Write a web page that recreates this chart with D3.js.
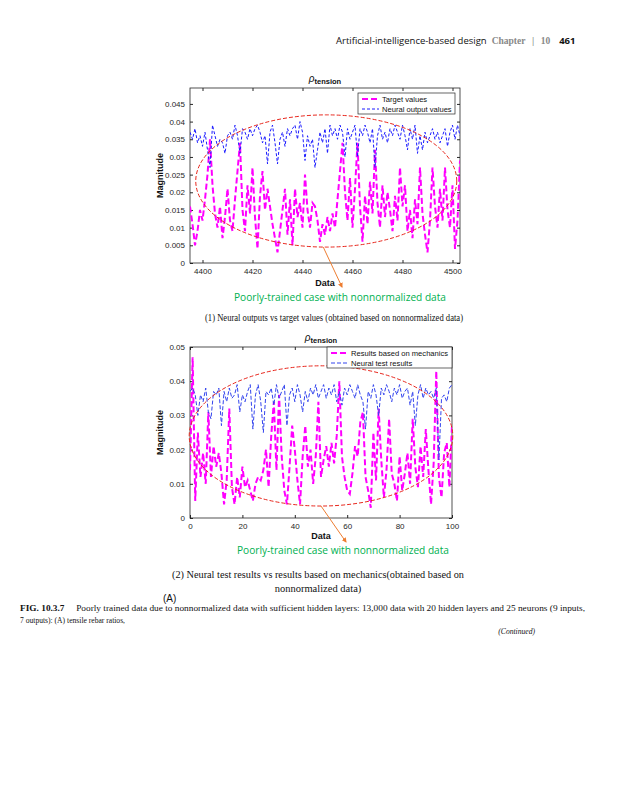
<!DOCTYPE html>
<html>
<head>
<meta charset="utf-8">
<script src="https://cdn.jsdelivr.net/npm/d3@7"></script>
<style>
  body { margin: 0; background: #fff; }
  svg { display: block; }
  .tick text { font-family: "Liberation Sans", Arial, sans-serif; font-size: 8px; fill: #262626; }
  .tick line { stroke: #262626; }
  .domain { stroke: none; }
</style>
</head>
<body>
<script>
// ---- data: top chart (samples 4395..4503) ----
var topIndex = d3.range(4395, 4504);
var topTarget = [
  0.016, 0.011, 0.005, 0.009, 0.015, 0.012, 0.018, 0.025, 0.035, 0.022,
  0.014, 0.010, 0.016, 0.007, 0.013, 0.021, 0.012, 0.009, 0.018, 0.026,
  0.034, 0.015, 0.009, 0.022, 0.014, 0.027, 0.013, 0.004, 0.019, 0.026,
  0.015, 0.021, 0.016, 0.011, 0.007, 0.003, 0.009, 0.015, 0.021, 0.008,
  0.018, 0.005, 0.021, 0.013, 0.017, 0.010, 0.025, 0.015, 0.010, 0.017,
  0.016, 0.012, 0.006, 0.011, 0.008, 0.013, 0.009, 0.014, 0.010, 0.018,
  0.026, 0.034, 0.020, 0.012, 0.024, 0.010, 0.021, 0.034, 0.016, 0.006,
  0.019, 0.011, 0.023, 0.014, 0.032, 0.017, 0.010, 0.022, 0.013, 0.020,
  0.015, 0.009, 0.019, 0.012, 0.027, 0.016, 0.022, 0.009, 0.015, 0.007,
  0.018, 0.011, 0.027, 0.014, 0.008, 0.003, 0.012, 0.027, 0.016, 0.010,
  0.021, 0.012, 0.027, 0.015, 0.010, 0.022, 0.004, 0.012, 0.029
];
var topNeural = [
  0.037, 0.035, 0.038, 0.034, 0.036, 0.033, 0.037, 0.032, 0.027, 0.039,
  0.036, 0.033, 0.035, 0.034, 0.031, 0.036, 0.037, 0.035, 0.039, 0.036,
  0.031, 0.038, 0.037, 0.035, 0.038, 0.036, 0.038, 0.039, 0.037, 0.034,
  0.036, 0.028, 0.037, 0.039, 0.034, 0.028, 0.035, 0.037, 0.033, 0.038,
  0.036, 0.038, 0.039, 0.035, 0.040, 0.037, 0.029, 0.036, 0.033, 0.035,
  0.027, 0.032, 0.037, 0.034, 0.038, 0.031, 0.039, 0.036, 0.038, 0.035,
  0.039, 0.037, 0.030, 0.038, 0.035, 0.037, 0.039, 0.030, 0.038, 0.036,
  0.039, 0.037, 0.034, 0.038, 0.027, 0.036, 0.039, 0.035, 0.037, 0.034,
  0.038, 0.036, 0.039, 0.037, 0.035, 0.039, 0.036, 0.032, 0.038, 0.035,
  0.039, 0.031, 0.036, 0.032, 0.037, 0.034, 0.036, 0.038, 0.035, 0.037,
  0.034, 0.036, 0.038, 0.033, 0.037, 0.039, 0.035, 0.039, 0.036
];
var topXTicks = [4400, 4420, 4440, 4460, 4480, 4500];
var topYTicks = [0, 0.005, 0.01, 0.015, 0.02, 0.025, 0.03, 0.035, 0.04, 0.045];
var topYTickLabels = ["0", "0.005", "0.01", "0.015", "0.02", "0.025", "0.03", "0.035", "0.04", "0.045"];
var topLegend = ["Target values", "Neural output values"];

// ---- data: bottom chart (test samples 0..100) ----
var botIndex = d3.range(0, 101);
var botMechanics = [
  0.014, 0.047, 0.005, 0.025, 0.012, 0.019, 0.010, 0.031, 0.012, 0.021,
  0.015, 0.019, 0.013, 0.004, 0.011, 0.032, 0.009, 0.004, 0.012, 0.006,
  0.015, 0.009, 0.011, 0.008, 0.005, 0.010, 0.012, 0.011, 0.014, 0.020,
  0.009, 0.024, 0.034, 0.014, 0.036, 0.018, 0.008, 0.004, 0.015, 0.027,
  0.020, 0.011, 0.004, 0.018, 0.027, 0.015, 0.020, 0.010, 0.018, 0.034,
  0.012, 0.017, 0.021, 0.015, 0.022, 0.016, 0.024, 0.040, 0.018, 0.012,
  0.008, 0.007, 0.013, 0.021, 0.018, 0.028, 0.031, 0.012, 0.008, 0.003,
  0.025, 0.011, 0.032, 0.017, 0.006, 0.014, 0.029, 0.013, 0.010, 0.005,
  0.018, 0.008, 0.013, 0.019, 0.010, 0.029, 0.015, 0.009, 0.021, 0.012,
  0.026, 0.014, 0.004, 0.016, 0.043, 0.012, 0.006, 0.019, 0.022, 0.009,
  0.027
];
var botNeural = [
  0.037, 0.038, 0.036, 0.030, 0.036, 0.034, 0.038, 0.031, 0.029, 0.037,
  0.036, 0.038, 0.027, 0.037, 0.034, 0.038, 0.035, 0.036, 0.039, 0.031,
  0.036, 0.034, 0.037, 0.039, 0.026, 0.036, 0.039, 0.034, 0.025, 0.037,
  0.036, 0.038, 0.033, 0.039, 0.035, 0.037, 0.039, 0.027, 0.036, 0.038,
  0.034, 0.039, 0.036, 0.031, 0.037, 0.034, 0.038, 0.036, 0.039, 0.035,
  0.037, 0.039, 0.035, 0.038, 0.036, 0.039, 0.034, 0.037, 0.033, 0.038,
  0.036, 0.039, 0.037, 0.035, 0.039, 0.036, 0.034, 0.026, 0.037, 0.035,
  0.039, 0.036, 0.030, 0.038, 0.036, 0.039, 0.037, 0.034, 0.038, 0.036,
  0.039, 0.035, 0.037, 0.038, 0.033, 0.037, 0.027, 0.036, 0.039, 0.035,
  0.038, 0.036, 0.037, 0.035, 0.038, 0.017, 0.035, 0.036, 0.034, 0.038,
  0.039
];
var botXTicks = [0, 20, 40, 60, 80, 100];
var botYTicks = [0, 0.01, 0.02, 0.03, 0.04, 0.05];
var botYTickLabels = ["0", "0.01", "0.02", "0.03", "0.04", "0.05"];
var botLegend = ["Results based on mechanics", "Neural test results"];

var greenNote = "Poorly-trained case with nonnormalized data";

var svg = d3.select("body").append("svg")
    .attr("width", 625)
    .attr("height", 800);

// ---- page header ----
var header = svg.append("text")
    .attr("y", 44)
    .attr("font-family", "'Open Sans', 'Liberation Sans', sans-serif")
    .attr("font-size", 9.5);
header.append("tspan").attr("x", 336).attr("fill", "#111").text("Artificial-intelligence-based design");
header.append("tspan").attr("dx", 5).attr("fill", "#888").attr("font-weight", "bold")
    .attr("font-family", "'Liberation Serif', serif").text("Chapter");
header.append("tspan").attr("dx", 5).attr("fill", "#888").text("|");
header.append("tspan").attr("dx", 5).attr("fill", "#888").attr("font-weight", "bold")
    .attr("font-family", "'Liberation Serif', serif").text("10");
header.append("tspan").attr("dx", 9).attr("fill", "#111").attr("font-weight", "bold").text("461");

// draws one MATLAB-like panel
function drawPanel(opt) {
  var w = opt.width, h = opt.height;
  var g = svg.append("g")
      .attr("transform", "translate(" + opt.left + "," + opt.top + ")");

  var x = d3.scaleLinear().domain(opt.xDomain).range([0, w]);
  var y = d3.scaleLinear().domain(opt.yDomain).range([h, 0]);

  var clipId = "clip" + opt.id;
  g.append("clipPath").attr("id", clipId)
    .append("rect").attr("width", w).attr("height", h);

  // axes (ticks pointing in)
  g.append("g")
      .attr("transform", "translate(0," + h + ")")
      .call(d3.axisBottom(x).tickValues(opt.xTicks).tickSizeInner(-3).tickSizeOuter(0).tickPadding(5)
        .tickFormat(d3.format("d")));
  g.append("g")
      .call(d3.axisTop(x).tickValues(opt.xTicks).tickSizeInner(-3).tickSizeOuter(0).tickFormat(""));
  g.append("g")
      .call(d3.axisLeft(y).tickValues(opt.yTicks).tickSizeInner(-3).tickSizeOuter(0).tickPadding(5)
        .tickFormat(function(d, i) { return opt.yTickLabels[i]; }));
  g.append("g")
      .attr("transform", "translate(" + w + ",0)")
      .call(d3.axisRight(y).tickValues(opt.yTicks).tickSizeInner(-3).tickSizeOuter(0).tickFormat(""));

  // box
  g.append("rect")
      .attr("width", w).attr("height", h)
      .attr("fill", "none").attr("stroke", "#262626").attr("stroke-width", 0.8);

  var line = d3.line()
      .x(function(d) { return x(d[0]); })
      .y(function(d) { return y(d[1]); });

  var lines = g.append("g").attr("clip-path", "url(#" + clipId + ")");
  lines.append("path")
      .datum(d3.zip(opt.index, opt.series1))
      .attr("d", line)
      .attr("fill", "none")
      .attr("stroke", "#ff00ff")
      .attr("stroke-width", 2)
      .attr("stroke-dasharray", "6,3");
  lines.append("path")
      .datum(d3.zip(opt.index, opt.series2))
      .attr("d", line)
      .attr("fill", "none")
      .attr("stroke", opt.blue)
      .attr("stroke-width", 1)
      .attr("stroke-dasharray", opt.blueDash);

  // red dashed ellipse around the data
  var e = opt.ellipse;
  g.append("ellipse")
      .attr("cx", x(e.cx)).attr("cy", y(e.cy))
      .attr("rx", x(e.cx + e.rx) - x(e.cx))
      .attr("ry", y(e.cy - e.ry) - y(e.cy))
      .attr("fill", "none")
      .attr("stroke", "#e8261c")
      .attr("stroke-width", 1)
      .attr("stroke-dasharray", "4,2");

  // legend
  var lg = g.append("g").attr("transform", "translate(" + opt.legend.x + "," + opt.legend.y + ")");
  lg.append("rect")
      .attr("width", opt.legend.w).attr("height", 21)
      .attr("fill", "#fff").attr("stroke", "#262626").attr("stroke-width", 0.7);
  var sw = [
    {c: "#ff00ff", wdt: 2, dash: "6,3"},
    {c: opt.blue, wdt: 1, dash: opt.blueDash}
  ];
  opt.legendLabels.forEach(function(t, i) {
    var yy = 6 + i * 10;
    lg.append("line")
        .attr("x1", 4).attr("x2", 21).attr("y1", yy).attr("y2", yy)
        .attr("stroke", sw[i].c).attr("stroke-width", sw[i].wdt)
        .attr("stroke-dasharray", sw[i].dash);
    lg.append("text")
        .attr("x", 24).attr("y", yy + 3)
        .attr("font-family", "'Liberation Sans', Arial, sans-serif")
        .attr("font-size", 7.6).attr("fill", "#111")
        .text(t);
  });

  // title rho_tension
  var title = g.append("text")
      .attr("x", w / 2).attr("y", -6)
      .attr("text-anchor", "middle")
      .attr("font-family", "'Liberation Sans', Arial, sans-serif")
      .attr("fill", "#111");
  title.append("tspan").attr("font-style", "italic").attr("font-size", 10).text("\u03C1");
  title.append("tspan").attr("font-weight", "bold").attr("font-size", 7.5).attr("dy", 2).text("tension");

  // axis labels
  g.append("text")
      .attr("transform", "translate(" + (-27) + "," + (h / 2) + ") rotate(-90)")
      .attr("text-anchor", "middle")
      .attr("font-family", "'Liberation Sans', Arial, sans-serif")
      .attr("font-size", 9).attr("font-weight", "bold").attr("fill", "#111")
      .text("Magnitude");
  g.append("text")
      .attr("x", w / 2).attr("y", h + opt.dataLabelDy)
      .attr("text-anchor", "middle")
      .attr("font-family", "'Liberation Sans', Arial, sans-serif")
      .attr("font-size", 9).attr("font-weight", "bold").attr("fill", "#111")
      .text("Data");

  // orange arrow from the ellipse to the note
  var ax = x(e.cx) + opt.arrowStartDx, ay = y(e.cy - e.ry);
  g.append("line")
      .attr("x1", ax).attr("y1", ay)
      .attr("x2", opt.arrowEnd[0]).attr("y2", opt.arrowEnd[1])
      .attr("stroke", "#ed7d31").attr("stroke-width", 1)
      .attr("marker-end", "url(#arrowhead)");

  // green note
  g.append("text")
      .attr("x", opt.noteX).attr("y", opt.noteY)
      .attr("text-anchor", "middle")
      .attr("font-family", "'Open Sans', sans-serif")
      .attr("font-size", 11)
      .attr("fill", "#00b050")
      .attr("textLength", 212).attr("lengthAdjust", "spacingAndGlyphs")
      .text(greenNote);
}

svg.append("defs").append("marker")
    .attr("id", "arrowhead")
    .attr("viewBox", "0 0 10 10")
    .attr("refX", 8).attr("refY", 5)
    .attr("markerWidth", 5).attr("markerHeight", 5)
    .attr("orient", "auto")
  .append("path")
    .attr("d", "M0,0 L10,5 L0,10 z")
    .attr("fill", "#ed7d31");

drawPanel({
  id: 1, left: 190, top: 88, width: 270, height: 175,
  xDomain: [4395, 4503], yDomain: [0, 0.0495],
  xTicks: topXTicks, yTicks: topYTicks, yTickLabels: topYTickLabels,
  index: topIndex, series1: topTarget, series2: topNeural,
  blue: "#1a1aff", blueDash: "3,2",
  ellipse: {cx: 4449.5, cy: 0.0232, rx: 52.2, ry: 0.0187},
  legend: {x: 168, y: 5, w: 97}, legendLabels: topLegend,
  arrowStartDx: -3, arrowEnd: [152, 199], dataLabelDy: 23,
  noteX: 150, noteY: 213
});

drawPanel({
  id: 2, left: 190, top: 347, width: 262, height: 171,
  xDomain: [0, 100], yDomain: [0, 0.05],
  xTicks: botXTicks, yTicks: botYTicks, yTickLabels: botYTickLabels,
  index: botIndex, series1: botMechanics, series2: botNeural,
  blue: "#3344ee", blueDash: "4,2",
  ellipse: {cx: 50, cy: 0.024, rx: 50.3, ry: 0.0205},
  legend: {x: 137, y: 0, w: 125}, legendLabels: botLegend,
  arrowStartDx: 0, arrowEnd: [156, 195], dataLabelDy: 21,
  noteX: 153, noteY: 207
});

// ---- captions ----
function serifText(x, y, txt, size, len, anchor) {
  var t = svg.append("text")
      .attr("x", x).attr("y", y)
      .attr("font-family", "'Liberation Serif', 'Times New Roman', serif")
      .attr("font-size", size).attr("fill", "#111")
      .attr("text-anchor", anchor || "start")
      .text(txt);
  if (len) t.attr("textLength", len).attr("lengthAdjust", "spacingAndGlyphs");
  return t;
}

serifText(205, 321, "(1) Neural outputs vs target values (obtained based on nonnormalized data)", 10.5, 258);
serifText(172, 578, "(2) Neural test results vs results based on mechanics(obtained based on", 10.5, 292);
serifText(318, 592, "nonnormalized data)", 10.5, null, "middle");

svg.append("text")
    .attr("x", 163).attr("y", 602)
    .attr("font-family", "'Liberation Sans', Arial, sans-serif")
    .attr("font-size", 10).attr("fill", "#111")
    .text("(A)");

var fig = svg.append("text")
    .attr("x", 20).attr("y", 611)
    .attr("font-family", "'Liberation Serif', 'Times New Roman', serif")
    .attr("font-size", 7.6).attr("fill", "#111")
    .attr("textLength", 565).attr("lengthAdjust", "spacingAndGlyphs");
fig.append("tspan").attr("font-weight", "bold").text("FIG. 10.3.7");
fig.append("tspan").text("\u2003 Poorly trained data due to nonnormalized data with sufficient hidden layers: 13,000 data with 20 hidden layers and 25 neurons (9 inputs,");
serifText(20, 623, "7 outputs): (A) tensile rebar ratios,", 7.6, null);
serifText(535, 634, "(Continued)", 7.6, null, "end").attr("font-style", "italic");
</script>
</body>
</html>
